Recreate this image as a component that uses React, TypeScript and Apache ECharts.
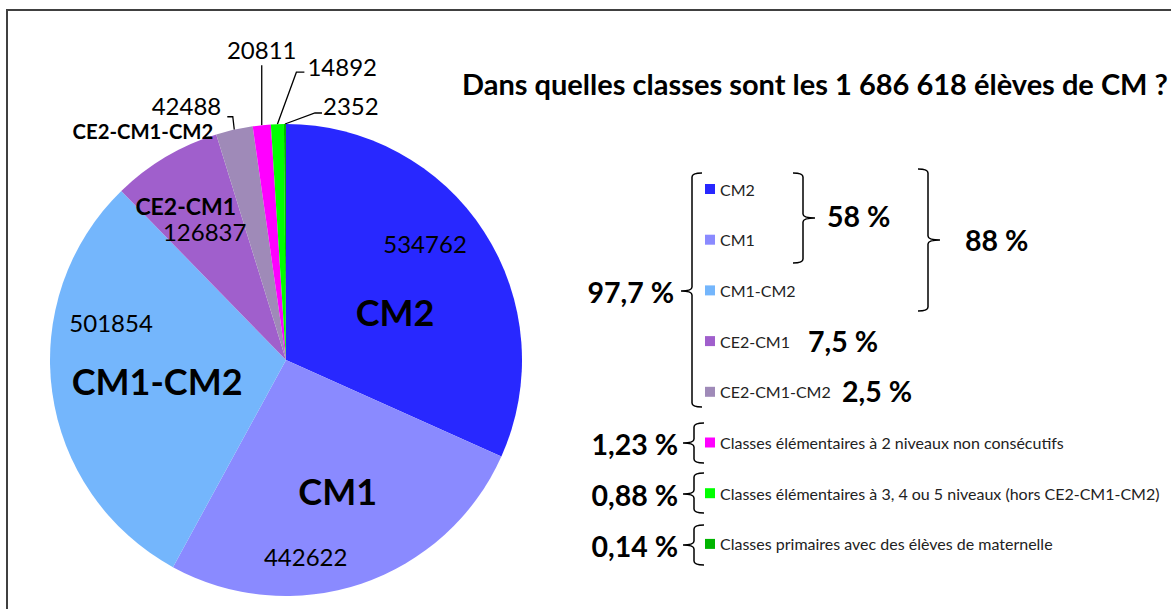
import React, { useEffect, useRef } from "react";
import * as echarts from "echarts";

// ---------- data ----------
const categories = [
  "CM2",
  "CM1",
  "CM1-CM2",
  "CE2-CM1",
  "CE2-CM1-CM2",
  "Classes élémentaires à 2 niveaux non consécutifs",
  "Classes élémentaires à 3, 4 ou 5 niveaux (hors CE2-CM1-CM2)",
  "Classes primaires avec des élèves de maternelle",
];
const values = [534762, 442622, 501854, 126837, 42488, 20811, 14892, 2352];
const colors = ["#2828FF", "#8A8AFF", "#74B6FC", "#A05FCC", "#9F8AB8", "#FF00FF", "#00FF00", "#00B400"];
const sliceNames = ["CM2", "CM1", "CM1-CM2", "CE2-CM1", "CE2-CM1-CM2"];
const titleText = "Dans quelles classes sont les 1 686 618 élèves de CM ?";
const shareLabels = ["97,7 %", "58 %", "88 %", "7,5 %", "2,5 %", "1,23 %", "0,88 %", "0,14 %"];

// ---------- layout ----------
const CX = 286;
const CY = 360;
const R = 236;
const FONT = "Lato";
const TOTAL = values.reduce((a, b) => a + b, 0);

function midAngle(i: number) {
  let before = 0;
  for (let k = 0; k < i; k++) before += values[k];
  return ((before + values[i] / 2) / TOTAL) * Math.PI * 2;
}
function polar(i: number, rr: number): [number, number] {
  const a = midAngle(i);
  return [CX + rr * Math.sin(a), CY - rr * Math.cos(a)];
}

// name labels: anchor (inside = half radius, outside = edge) + nudge
const nameLayout: Record<number, any> = {
  0: { inside: true, dx: 10, dy: 16, align: "center", size: 36 },
  1: { inside: true, dx: 14, dy: 19, align: "center", size: 36 },
  2: { inside: true, dx: -12, dy: 5, align: "center", size: 36 },
  3: { inside: true, dx: -40, dy: -53, align: "center", size: 23 },
  4: { inside: false, dx: -21, dy: 1.5, align: "right", size: 20.3, lh: 18 },
};
const valueLayout: Record<number, any> = {
  0: { inside: true, dx: 40, dy: -52, align: "center" },
  1: { inside: true, dx: -18, dy: 85, align: "center" },
  2: { inside: true, dx: -58, dy: -54, align: "center" },
  3: { inside: true, dx: -21, dy: -27, align: "center" },
  4: { inside: false, dx: -13, dy: -24, align: "right", lh: 20, line: [[-1.5, -13], [-7, -13]] },
  5: { inside: false, dx: 0, dy: -76, align: "center", line: [[0, -30], [0, -60]] },
  6: { inside: false, dx: 30, dy: -58, align: "left", line: [[19, -52], [27, -52]] },
  7: { inside: false, dx: 38, dy: -19, align: "left", line: [[30, -11], [37, -11]] },
};

function anchor(i: number, inside: boolean) {
  return inside ? polar(i, R / 2) : polar(i, R);
}

function bracePath(x: number, y1: number, y2: number, ym: number, dir: number, hook: number, tick: number) {
  const r = 4;
  return (
    `M ${x + dir * hook} ${y1} Q ${x} ${y1} ${x} ${y1 + r} L ${x} ${ym - r} ` +
    `Q ${x} ${ym} ${x - dir * tick} ${ym} Q ${x} ${ym} ${x} ${ym + r} ` +
    `L ${x} ${y2 - r} Q ${x} ${y2} ${x + dir * hook} ${y2}`
  );
}
const braces = [
  bracePath(692, 173, 407, 291, 1, 10, 11),
  bracePath(803, 173, 263, 218, -1, 10, 12),
  bracePath(928, 169, 311, 240, -1, 10, 12),
  bracePath(694, 423, 463, 443, 1, 10, 11),
  bracePath(694, 473, 513, 494, 1, 10, 11),
  bracePath(694, 525, 565, 545, 1, 10, 11),
];
braces.forEach((d, i) => {
  echarts.graphic.registerShape("brace" + i, echarts.graphic.extendPath(d, {}) as any);
});

// share label positions: [x, y, align]
const sharePos: [number, number, string][] = [
  [674, 292, "right"],
  [827, 216, "left"],
  [965, 240, "left"],
  [808, 341, "left"],
  [842, 391, "left"],
  [678, 444, "right"],
  [678, 495, "right"],
  [678, 546, "right"],
];

export default function App() {
  const ref = useRef<HTMLDivElement>(null);
  useEffect(() => {
    document.body.style.margin = "0";
    document.body.style.overflow = "hidden";
    if (!ref.current) return;
    const chart = echarts.init(ref.current, undefined, { renderer: "svg" });

    const nameData = values.map((v, i) => ({
      name: categories[i],
      value: v,
      itemStyle: { color: colors[i] },
      label: nameLayout[i]
        ? {
            show: true,
            position: nameLayout[i].inside ? "inside" : "outside",
            formatter: sliceNames[i],
            fontSize: nameLayout[i].size,
            lineHeight: nameLayout[i].lh,
            fontWeight: "bold",
            fontFamily: FONT,
            color: "#000",
          }
        : { show: false },
      labelLine: { show: false },
    }));
    const valueData = values.map((v, i) => ({
      name: categories[i],
      value: v,
      label: {
        show: true,
        position: valueLayout[i].inside ? "inside" : "outside",
        formatter: String(v),
        fontSize: 24,
        lineHeight: valueLayout[i].lh,
        fontFamily: FONT,
        color: "#000",
      },
      labelLine: { show: !valueLayout[i].inside, lineStyle: { color: "#000", width: 1.3 } },
    }));

    const option: any = {
      animation: false,
      backgroundColor: "#fff",
      title: {
        text: titleText,
        left: 462,
        top: 67,
        padding: 0,
        textStyle: { fontFamily: FONT, fontWeight: "bold", fontSize: 29, color: "#000", lineHeight: 32 },
      },
      legend: {
        orient: "vertical",
        left: 705,
        top: 179,
        padding: 0,
        itemWidth: 10,
        itemHeight: 10,
        itemGap: 30.7,
        icon: "rect",
        selectedMode: false,
        data: categories,
        textStyle: { fontFamily: FONT, fontSize: 16, color: "#222", lineHeight: 20 },
      },
      series: [
        {
          type: "pie",
          center: [CX, CY],
          radius: R,
          startAngle: 90,
          clockwise: true,
          avoidLabelOverlap: false,
          silent: true,
          itemStyle: { borderWidth: 0 },
          data: nameData,
          labelLayout: (p: any) => {
            const L = nameLayout[p.dataIndex];
            if (!L) return {};
            const a = anchor(p.dataIndex, L.inside);
            return { x: a[0] + L.dx, y: a[1] + L.dy, align: L.align, verticalAlign: "middle" };
          },
        },
        {
          type: "pie",
          center: [CX, CY],
          radius: R,
          startAngle: 90,
          clockwise: true,
          avoidLabelOverlap: false,
          silent: true,
          itemStyle: { color: "rgba(0,0,0,0)", borderWidth: 0 },
          data: valueData,
          labelLayout: (p: any) => {
            const L = valueLayout[p.dataIndex];
            const a = anchor(p.dataIndex, L.inside);
            const res: any = { x: a[0] + L.dx, y: a[1] + L.dy, align: L.align, verticalAlign: "middle" };
            if (L.line) {
              res.labelLinePoints = [a, ...L.line.map((o: number[]) => [a[0] + o[0], a[1] + o[1]])];
            }
            return res;
          },
        },
      ],
      graphic: [
        {
          type: "rect",
          shape: { x: 7, y: 10, width: 1400, height: 800 },
          style: { fill: "none", stroke: "#404040", lineWidth: 2 },
          silent: true,
        },
        ...braces.map((_, i) => ({
          type: "brace" + i,
          style: { fill: "none", stroke: "#000", lineWidth: 1.5 },
          silent: true,
        })),
        ...shareLabels.map((t, i) => ({
          type: "text",
          x: sharePos[i][0],
          y: sharePos[i][1],
          silent: true,
          style: {
            text: t,
            align: sharePos[i][2],
            verticalAlign: "middle",
            fontFamily: FONT,
            fontWeight: "bold",
            fontSize: 28.5,
            fill: "#000",
          },
        })),
      ],
    };
    chart.setOption(option);
    return () => chart.dispose();
  }, []);
  return <div ref={ref} style={{ width: 1171, height: 609 }} />;
}
